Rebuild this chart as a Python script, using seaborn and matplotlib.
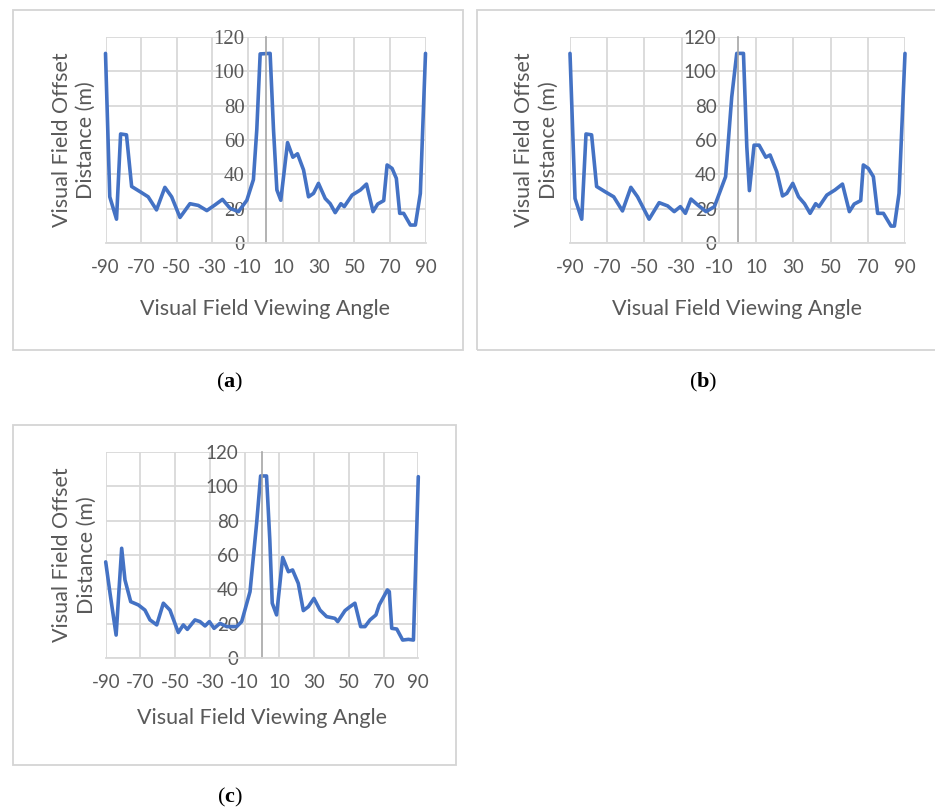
import matplotlib
matplotlib.use("Agg")
import matplotlib.pyplot as plt
from matplotlib.patches import Rectangle
import seaborn as sns
import pandas as pd

# ---------------- data ----------------
x_ticks = [-90, -70, -50, -30, -10, 10, 30, 50, 70, 90]
x_tick_labels = ["-90", "-70", "-50", "-30", "-10", "10", "30", "50", "70", "90"]
y_ticks = [0, 20, 40, 60, 80, 100, 120]

ang_a = [-90, -87.6, -83.8, -81.5, -78.2, -75.3, -70.6, -66, -61.3, -56.6, -52.8, -48.1,
         -42.5, -37.8, -33, -28.4, -24.2, -19.9, -15.2, -10.5, -6.8, -4.9, -3, 2.6, 4.5,
         6.4, 8.6, 12.4, 15.4, 18, 21.4, 24.2, 27, 29.8, 33.6, 36.4, 39.2, 42.4, 44.3, 48.7,
         53.4, 56.8, 60.5, 63.1, 66.5, 68.4, 71.2, 73.6, 75.5, 77.7, 81.5, 84.3, 87.1, 90]
dist_a = [110.3, 27, 14, 63.5, 63, 33, 30, 27, 19.4, 32.5, 27, 15,
          23, 22, 19, 22.3, 25.5, 20.3, 18.4, 25, 37, 66, 110, 110.3, 66,
          31, 25, 58.5, 50, 52, 42.6, 27, 29, 34.8, 26, 23, 17.8, 23, 21.3, 28,
          31, 34.4, 18.4, 22.8, 24.8, 45.5, 43.5, 37.7, 17.4, 17.4, 10.6, 10.6, 29, 110.3]

ang_b = [-90, -87.3, -83.7, -81.4, -78.4, -75.7, -71.2, -66.5, -61.8, -57.3, -53.7, -47.5,
         -42.1, -37.5, -34, -30.7, -28, -25, -21.4, -16.9, -12.4, -6.4, -3.1, -0.4, 3.2,
         5, 6.4, 8.9, 11.6, 15.2, 17.5, 21.1, 24.2, 26.5, 29.7, 32.8, 36, 39, 42, 43.8,
         48, 52.4, 56.4, 60.1, 62.7, 66.2, 67.6, 70.3, 73, 75.3, 78.4, 82.5, 84.3, 86.8, 90]
dist_b = [110.3, 26, 14, 63.5, 63, 33, 30, 27, 18.8, 32.5, 27, 14,
          23.6, 21.7, 18.4, 21.3, 17.4, 25.7, 22.3, 18.4, 21.3, 38.7, 85, 110.3, 110.3,
          56, 30.6, 57, 57, 50, 51.3, 41.6, 27.5, 29, 34.8, 27, 23, 17.4, 23, 21.3,
          28, 31, 34.4, 18.4, 22.8, 24.8, 45.5, 43.5, 38.7, 17.4, 17.4, 10, 10, 29, 110.3]

ang_c = [-90, -87.5, -84, -80.8, -78.9, -75.6, -71.2, -67.4, -64.5, -60.6, -56.8, -53,
         -48.2, -45.3, -43, -38.6, -35.7, -32.8, -30.3, -27.6, -24.2, -20.3, -14.6, -11.7,
         -6.9, -3.1, -0.8, 2.6, 4.5, 5.9, 8.4, 11.9, 15.2, 17.6, 20.9, 23.8, 26.7, 29.9,
         33.4, 37.2, 42, 43.6, 47.8, 50.7, 53.5, 56.8, 59.3, 62.2, 65.6, 67.5, 72.2, 73.3,
         74.7, 77.6, 81, 84.3, 87.2, 90]
dist_c = [56, 37.7, 13.5, 63.9, 45.5, 32.9, 31, 28, 22.3, 19.4, 32, 28,
          15, 19.4, 16.8, 22.3, 21.3, 18.8, 21.3, 17.4, 20.3, 18.4, 18.4, 21.3,
          38.7, 78.4, 105.9, 105.9, 68.7, 32, 25.2, 58.6, 50.3, 51.3, 43.5, 27.7, 30, 34.8,
          28, 24.2, 23.2, 21.3, 27.7, 30, 32, 18.4, 18.4, 22.3, 25.2, 31, 39.7, 38.7,
          17.4, 17, 10.6, 11, 10.6, 105.5]

y_label = "Visual Field Offset\nDistance (m)"
x_label = "Visual Field Viewing Angle"
captions = ["a", "b", "c"]

# ---------------- style ----------------
sns.set_style("white")
plt.rcParams["font.family"] = ["Lato", "DejaVu Sans"]
plt.rcParams["mathtext.fontset"] = "custom"
plt.rcParams["mathtext.rm"] = "Liberation Serif"
plt.rcParams["mathtext.bf"] = "Liberation Serif:bold"

W, H = 935, 809
fig = plt.figure(figsize=(W / 100, H / 100), dpi=100)
fig.patch.set_facecolor("white")

LINE = "#4472C4"
GRID = "#d9d9d9"
TXT = "#595959"


def px_rect(x0, y0, x1, y1):
    return [x0 / W, 1 - y1 / H, (x1 - x0) / W, (y1 - y0) / H]


def box(x0, y0, x1, y1):
    fig.add_artist(Rectangle((x0 / W, 1 - y1 / H), (x1 - x0) / W, (y1 - y0) / H,
                             transform=fig.transFigure, fill=False,
                             edgecolor="#d4d4d4", lw=1.3))


def panel(rect, ang, dist, serif_y, ypad, xlab_y):
    ax = fig.add_axes(rect)
    df = pd.DataFrame({"angle": ang, "dist": dist})
    sns.lineplot(data=df, x="angle", y="dist", ax=ax, color=LINE, linewidth=2.6,
                 estimator=None, sort=False, clip_on=False)
    ax.set_xlim(-90, 90)
    ax.set_ylim(0, 120)
    ax.set_xticks(x_ticks)
    ax.set_xticklabels(x_tick_labels)
    ax.set_yticks(y_ticks)
    ax.set_yticklabels([str(v) for v in y_ticks])
    ax.grid(True, color=GRID, lw=1.3)
    ax.set_axisbelow(True)
    ax.set_facecolor("white")
    ax.spines["top"].set_visible(False)
    ax.spines["right"].set_visible(False)
    ax.spines["left"].set_position(("data", 0))
    ax.spines["left"].set_color("#a6a6a6")
    ax.spines["left"].set_linewidth(1.2)
    ax.spines["bottom"].set_color(GRID)
    ax.spines["bottom"].set_linewidth(1.3)
    ax.tick_params(axis="both", length=0, labelcolor=TXT, labelsize=13.5)
    ax.tick_params(axis="x", pad=11)
    ax.tick_params(axis="y", pad=ypad)
    if serif_y:
        for t in ax.get_yticklabels():
            t.set_fontfamily(["Liberation Serif", "DejaVu Serif"])
            t.set_fontsize(15)
    ax.set_xlabel(x_label, color=TXT, fontsize=15.5)
    ax.xaxis.set_label_coords(0.5, xlab_y)
    ax.set_ylabel(y_label, color=TXT, fontsize=15.5, linespacing=1.25)
    ax.yaxis.set_label_coords(-0.10, 0.5)
    ax.yaxis.label.set_verticalalignment("center")
    ax.xaxis.label.set_verticalalignment("center")
    return ax


box(13, 10, 463, 350)
box(477, 10, 945, 350)
box(13, 425, 456, 765)

panel(px_rect(105.5, 36.7, 425.5, 243.3), ang_a, dist_a, True, 15, -0.32)
panel(px_rect(570, 36.7, 905, 243.3), ang_b, dist_b, False, 15, -0.32)
panel(px_rect(105.7, 451.7, 418.3, 658.3), ang_c, dist_c, False, 17, -0.29)

for lab, (cx, cy) in zip(captions, [(230, 382), (703, 382), (230, 797)]):
    fig.text(cx / W, 1 - cy / H, r"$(\mathbf{" + lab + r"})$",
             fontsize=16, ha="center", va="center", color="black")

fig.savefig("out.png", dpi=100, facecolor="white")
